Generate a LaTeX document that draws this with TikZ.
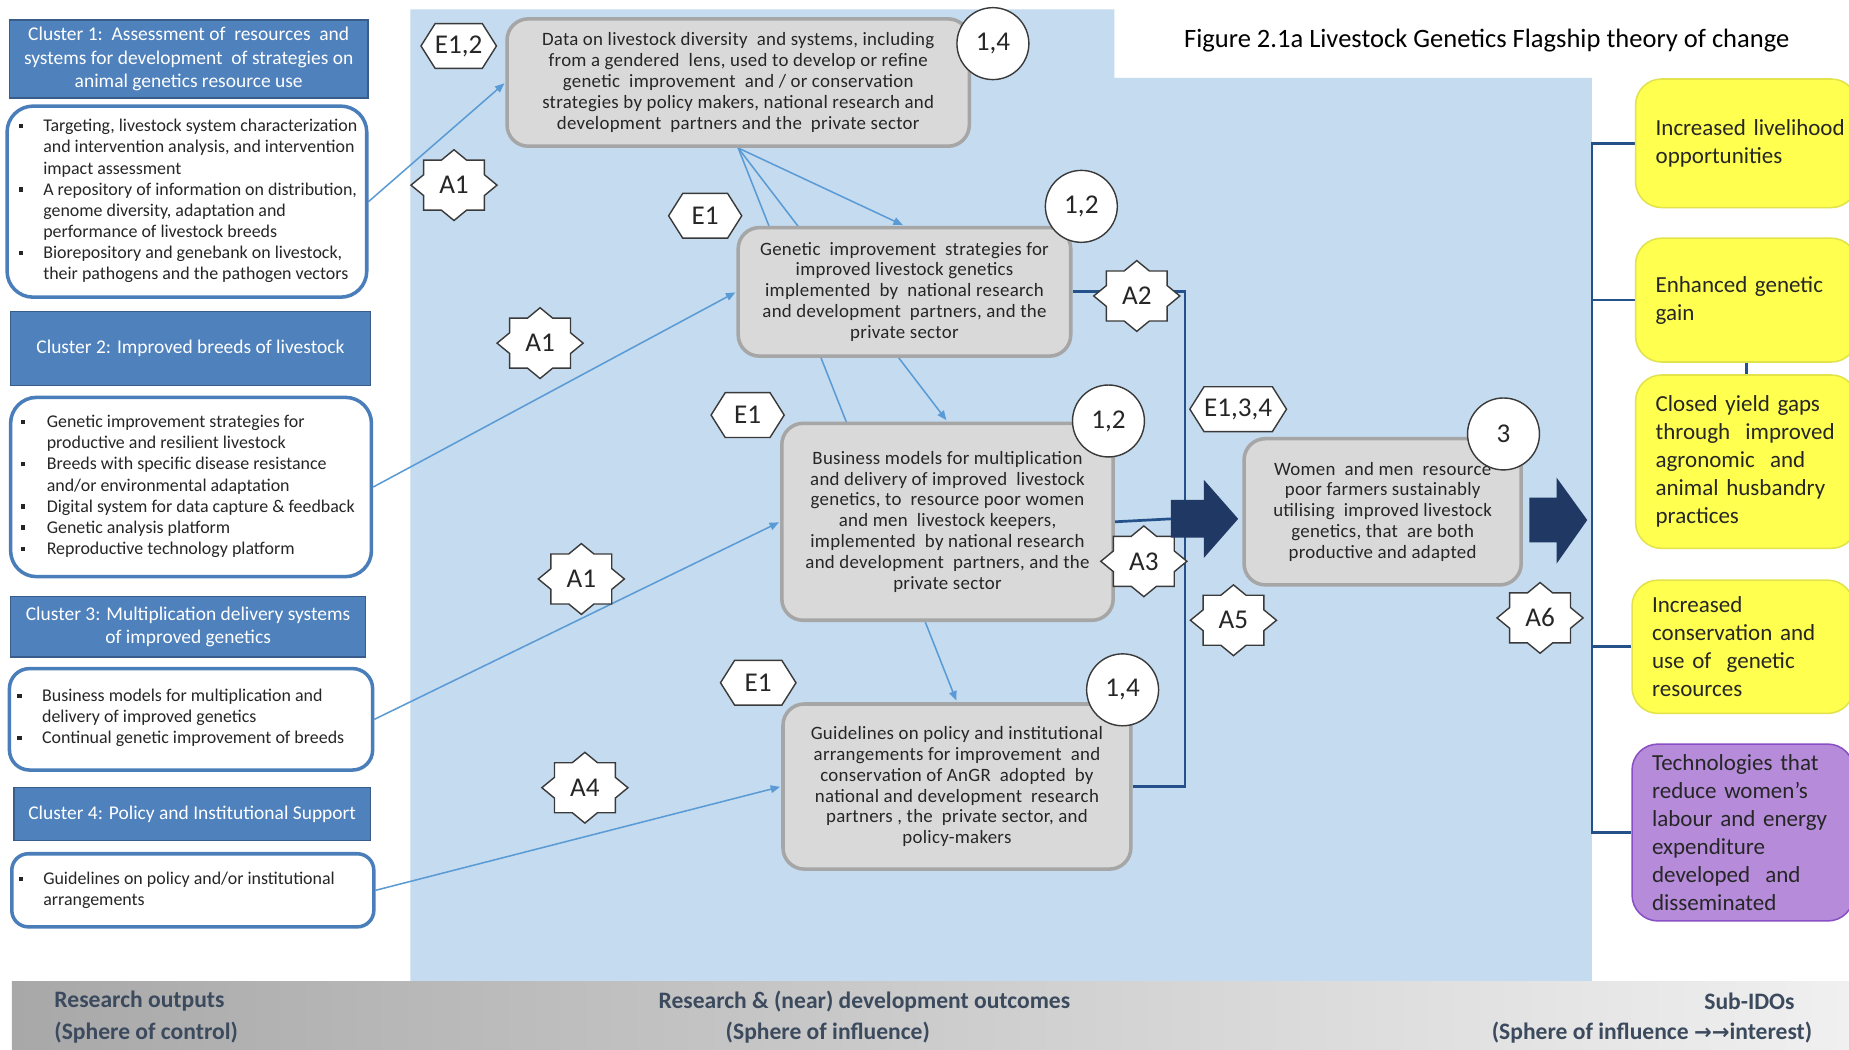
\documentclass[tikz,border=0pt]{standalone}
\usepackage{fontspec}
\setmainfont{Carlito}
\newfontfamily\dejavu{DejaVu Sans}
\newfontfamily\boxfont[LetterSpace=1.5]{Carlito}
\usetikzlibrary{arrows.meta}
\definecolor{bgblue}{HTML}{C5DBEF}
\definecolor{hdrblue}{HTML}{4F81BD}
\definecolor{hdrborder}{HTML}{385D8A}
\definecolor{cborder}{HTML}{4A7EBB}
\definecolor{boxgray}{HTML}{D9D9D9}
\definecolor{boxborder}{HTML}{A6A6A6}
\definecolor{thinblue}{HTML}{5B9BD5}
\definecolor{darkline}{HTML}{25518A}
\definecolor{bigarrow}{HTML}{1F3864}
\definecolor{yel}{HTML}{FFFF50}
\definecolor{yelborder}{HTML}{E2E24A}
\definecolor{purp}{HTML}{B58BDA}
\definecolor{purpborder}{HTML}{8A4FC4}
\definecolor{txt}{HTML}{262626}
\definecolor{lbl}{HTML}{3A3A3A}
\definecolor{bandtxt}{HTML}{3C4A5E}
\definecolor{bandL}{HTML}{A8A8A8}
\definecolor{bandR}{HTML}{F0F0F0}
\pgfdeclarelayer{back}
\pgfdeclarelayer{lines}
\pgfsetlayers{back,lines,main}
\newlength\bw
\newcommand\bul{\makebox[\bw][l]{\rule[0.2em]{3.6pt}{3.6pt}}}
\newcommand\ind{\hspace*{\bw}}
\tikzset{
  hdr/.style={draw=hdrborder, line width=1.2pt, fill=hdrblue, text=white, align=center, font=\fontsize{16.5}{20}\selectfont, inner sep=0pt},
  cbox/.style={draw=cborder, line width=3pt, fill=white, rounded corners=22pt, inner sep=0pt},
  btext/.style={anchor=west, align=left, text=txt, font=\fontsize{15.2}{17.9}\selectfont, inner sep=0pt},
  gbox/.style={draw=boxborder, line width=3pt, fill=boxgray, rounded corners=18pt, align=center, text=txt, font=\boxfont\fontsize{16}{17.7}\selectfont, inner sep=0pt},
  numc/.style={circle, draw=lbl, line width=1.2pt, fill=white, minimum size=61pt, inner sep=0pt, font=\fontsize{23}{26}\selectfont, text=txt},
  lbltext/.style={font=\fontsize{23}{26}\selectfont, text=txt, inner sep=0pt},
  bluearr/.style={draw=thinblue, line width=1.3pt, -{Triangle[length=8pt,width=6.5pt]}, shorten >=1pt},
  darkln/.style={draw=darkline, line width=2.3pt},
  sidebox/.style={line width=1.3pt, rounded corners=22pt, text width=154pt, inner xsep=17pt, inner ysep=0pt, align=left, text=txt, font=\fontsize{19.5}{23.8}\selectfont},
  ybox/.style={sidebox, draw=yelborder, fill=yel},
  pbox/.style={sidebox, draw=purpborder, fill=purp},
  bottxt/.style={inner sep=0pt, text=bandtxt, font=\fontsize{20}{22}\selectfont\bfseries},
  pics/starshape/.style={code={\draw[fill=white, draw=lbl, line width=1.2pt] (36.5,0) -- (25.8,8.8) -- (25.8,21.2) -- (10.7,21.2) -- (0,30) -- (-10.7,21.2) -- (-25.8,21.2) -- (-25.8,8.8) -- (-36.5,0) -- (-25.8,-8.8) -- (-25.8,-21.2) -- (-10.7,-21.2) -- (0,-30) -- (10.7,-21.2) -- (25.8,-21.2) -- (25.8,-8.8) -- cycle;}},
  pics/hexshape/.style={code={\draw[fill=white, draw=lbl, line width=1.2pt] (-#1,0) -- (-#1+12,-19) -- (#1-12,-19) -- (#1,0) -- (#1-12,19) -- (-#1+12,19) -- cycle;}},
}
\begin{document}
\begin{tikzpicture}[x=1pt, y=-1pt]
\useasboundingbox (0,0) rectangle (1568,890);
\clip (0,0) rectangle (1568,890);
\begin{pgfonlayer}{back}
  \fill[white] (0,0) rectangle (1568,890);
  \fill[bgblue] (348,8) -- (945,8) -- (945,66) -- (1350,66) -- (1350,832) -- (348,832) -- cycle;
  \shade[left color=bandL, right color=bandR] (10,832) rectangle (1568,890);
\end{pgfonlayer}

% title
\node[anchor=west, inner sep=0pt, text=black, font=\fontsize{22.5}{26}\selectfont] (title) at (1004,34) {Figure 2.1a Livestock Genetics Flagship theory of change};

% left clusters
\node[hdr, minimum width=304pt, minimum height=66pt] (h1) at (160,50) {Cluster 1:\ \ Assessment of\ \ resources\ \ and\\systems for development\ \ of strategies on\\animal genetics resource use};
\node[cbox, minimum width=305pt, minimum height=162pt] (c1) at (158.5,171) {};
\node[btext] (t1) at (15.5,170.5) {\global\bw=21pt\bul Targeting, livestock system characterization\\\ind and intervention analysis, and intervention\\\ind impact assessment\\\bul A repository of information on distribution,\\\ind genome diversity, adaptation and\\\ind performance of livestock breeds\\\bul Biorepository and genebank on livestock,\\\ind their pathogens and the pathogen vectors};

\node[hdr, minimum width=305pt, minimum height=63pt] (h2) at (161.5,295.5) {Cluster 2: Improved breeds of livestock};
\node[cbox, minimum width=306pt, minimum height=152pt] (c2) at (162,413) {};
\node[btext] (t2) at (17.5,412.5) {\global\bw=22pt\bul Genetic improvement strategies for\\\ind productive and resilient livestock\\\bul Breeds with specific disease resistance\\\ind and/or environmental adaptation\\\bul Digital system for data capture \& feedback\\\bul Genetic analysis platform\\\bul Reproductive technology platform};

\node[hdr, minimum width=301pt, minimum height=51pt] (h3) at (159.5,531.5) {Cluster 3: Multiplication delivery systems\\of improved genetics};
\node[cbox, rounded corners=17pt, minimum width=308pt, minimum height=86pt] (c3) at (162,610) {};
\node[btext] (t3) at (14.5,609) {\global\bw=21pt\bul Business models for multiplication and\\\ind delivery of improved genetics\\\bul Continual genetic improvement of breeds};

\node[hdr, minimum width=302pt, minimum height=45pt] (h4) at (163,690.5) {Cluster 4: Policy and Institutional Support};
\node[cbox, rounded corners=14pt, minimum width=307pt, minimum height=62pt] (c4) at (163.5,755) {};
\node[btext] (t4) at (15.5,755) {\global\bw=21pt\bul Guidelines on policy and/or institutional\\\ind arrangements};

% middle boxes
\node[gbox, minimum width=392pt, minimum height=108pt] (D) at (626,70) {Data on livestock diversity\ \ and systems, including\\from a gendered\ \ lens, used to develop or refine\\genetic\ \ improvement\ \ and / or conservation\\strategies by policy makers, national research and\\development\ \ partners and the\ \ private sector};
\node[gbox, minimum width=282pt, minimum height=109pt] (G) at (767,247.5) {Genetic\ \ improvement\ \ strategies for\\improved livestock genetics\\implemented\ \ by\ \ national research\\and development\ \ partners, and the\\private sector};
\node[gbox, minimum width=281pt, minimum height=167pt] (B) at (803.5,442.5) {Business models for multiplication\\and delivery of improved\ \ livestock\\genetics, to\ \ resource poor women\\and men\ \ livestock keepers,\\implemented\ \ by national research\\and development\ \ partners, and the\\private sector};
\node[gbox, minimum width=295pt, minimum height=140pt] (P) at (811.5,667) {Guidelines on policy and institutional\\arrangements for improvement\ \ and\\conservation of AnGR\ \ adopted\ \ by\\national and development\ \ research\\partners , the\ \ private sector, and\\policy-makers};
\node[gbox, minimum width=235pt, minimum height=124pt] (W) at (1172.5,434) {Women\ \ and men\ \ resource\\poor farmers sustainably\\utilising\ \ improved livestock\\genetics, that\ \ are both\\productive and adapted};

% circles
\node[numc] (n1) at (842,37) {1,4};
\node[numc] (n2) at (917,175) {1,2};
\node[numc] (n3) at (940,357) {1,2};
\node[numc] (n4) at (952,585) {1,4};
\node[numc] (n5) at (1275,368) {3};

% hexagons
\pic at (389,39) {hexshape=32};   \node[lbltext] (e12) at (389,39) {E1,2};
\pic at (598,183) {hexshape=31};  \node[lbltext] (e1a) at (598,183) {E1};
\pic at (634,352) {hexshape=31};  \node[lbltext] (e1b) at (634,352) {E1};
\pic at (643,579) {hexshape=32};  \node[lbltext] (e1c) at (643,579) {E1};
\pic at (1050,347) {hexshape=41}; \node[lbltext] (e134) at (1050,347) {E1,3,4};

% stars
\pic at (385,157) {starshape};  \node[lbltext] (a1a) at (385,157) {A1};
\pic at (458,291) {starshape};  \node[lbltext] (a1b) at (458,291) {A1};
\pic at (964,251) {starshape};  \node[lbltext] (a2) at (964,251) {A2};
\pic at (493,491) {starshape};  \node[lbltext] (a1c) at (493,491) {A1};
\pic at (970,476) {starshape};  \node[lbltext] (a3) at (970,476) {A3};
\pic at (496,668) {starshape};  \node[lbltext] (a4) at (496,668) {A4};
\pic at (1046,526) {starshape}; \node[lbltext] (a5) at (1046,526) {A5};
\pic at (1306,524) {starshape}; \node[lbltext] (a6) at (1306,524) {A6};

% big arrows
\fill[bigarrow] (993,424) -- (1021,424) -- (1021,407) -- (1050,440) -- (1021,473) -- (1021,456) -- (993,456) -- cycle;
\coordinate (ar1t) at (993,440);
\fill[bigarrow] (1297,422) -- (1320,422) -- (1320,405) -- (1346,441) -- (1320,478) -- (1320,460) -- (1297,460) -- cycle;

% right boxes
\node[ybox, minimum height=109pt] (Y1) at (1481,121.5) {\mbox{Increased livelihood}\\opportunities};
\node[ybox, minimum height=105pt] (Y2) at (1481,254.5) {\mbox{Enhanced genetic}\\gain};
\node[ybox, minimum height=147pt] (Y3) at (1481,391.5) {\mbox{Closed yield gaps}\\\mbox{through\ \ improved}\\\mbox{agronomic\ \ and}\\\mbox{animal husbandry}\\practices};
\node[ybox, minimum height=113pt] (Y4) at (1478,548.5) {Increased\\\mbox{conservation and}\\\mbox{use of\ \ genetic}\\resources};
\node[pbox, minimum height=150pt] (Pu) at (1478,706) {\mbox{Technologies that}\\\mbox{reduce women’s}\\\mbox{labour and energy}\\expenditure\\\mbox{developed\ \ and}\\disseminated};

% bottom band texts
\node[bottxt, anchor=west] (ro1) at (46,849) {Research outputs};
\node[bottxt, anchor=west] (ro2) at (46,876) {(Sphere of control)};
\node[bottxt] (rd1) at (733,849) {Research \& (near) development outcomes};
\node[bottxt] (rd2) at (702,876) {(Sphere of influence)};
\node[bottxt, anchor=east] (si1) at (1522,849) {Sub-IDOs};
\node[bottxt, anchor=east] (si2) at (1537,876) {(Sphere of influence {\dejavu\fontsize{18}{20}\selectfont →→}interest)};

% connectors
\begin{pgfonlayer}{lines}
  \draw[bluearr] (c1.east) -- (D.west);
  \draw[bluearr] (c2.east) -- (G.west);
  \draw[bluearr] (c3.east) -- (B.west);
  \draw[bluearr] (c4.east) -- (P.west);
  \draw[bluearr, shorten >=1.5pt] (D.south) -- (G.north);
  \draw[bluearr, shorten >=1.5pt] (D.south) -- (B.north);
  \draw[bluearr, shorten >=1.5pt] (D.south) -- (P.north);
  \coordinate (jL) at (1005,667);
  \draw[darkln] (G.east) -| (jL) -- (P.east);
  \draw[darkln] (B.east) -- (ar1t);
  \coordinate (sp) at (1350,0);
  \draw[darkln] (Y1.west) -- (Y1.west -| sp) -- (Pu.west -| sp) -- (Pu.west);
  \draw[darkln] (Y2.west) -- (Y2.west -| sp);
  \draw[darkln] (Y4.west) -- (Y4.west -| sp);
  \draw[darkln] (Y2.south) -- (Y3.north);
\end{pgfonlayer}
\end{tikzpicture}
\end{document}
